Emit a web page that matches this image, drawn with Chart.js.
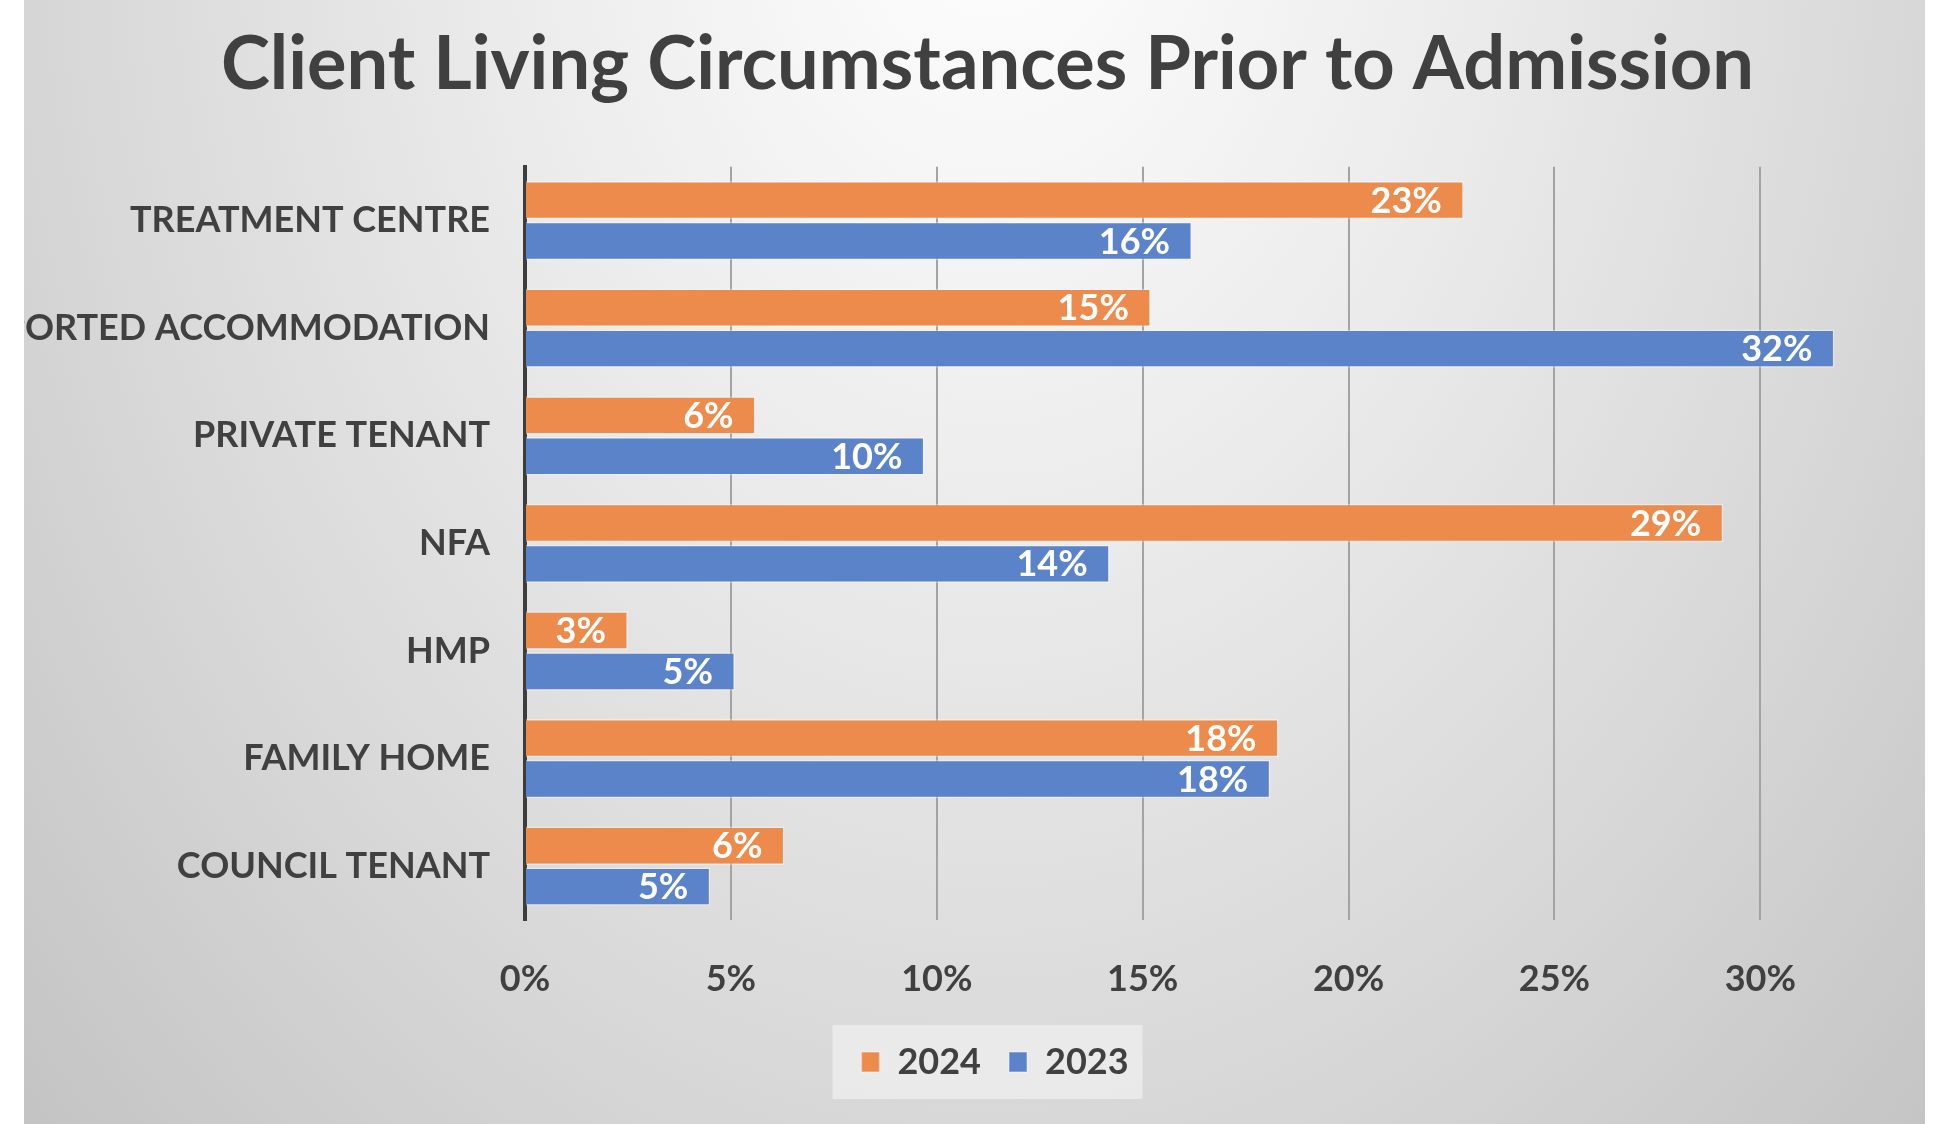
<!DOCTYPE html>
<html>
<head>
<meta charset="utf-8">
<title>Client Living Circumstances Prior to Admission</title>
<script src="https://cdn.jsdelivr.net/npm/chart.js@4.4.1/dist/chart.umd.min.js"></script>
<style>
    body { margin: 0; background: #ffffff; }
    #wrap {
        position: absolute;
        left: 24px;
        top: 0;
        width: 1901px;
        height: 1124px;
        background: radial-gradient(ellipse 1000px 1350px at 966px -130px,
            #ffffff 0%, #f7f7f7 20%, #ebebeb 50%, #d9d9d9 90%, #c3c3c3 135%);
    }
</style>
</head>
<body>
<div id="wrap"><canvas id="livingChart"></canvas></div>
<script>
const categories = ['TREATMENT CENTRE', 'SUPPORTED ACCOMMODATION', 'PRIVATE TENANT', 'NFA', 'HMP', 'FAMILY HOME', 'COUNCIL TENANT'];
const values2024 = [22.8, 15.2, 5.6, 29.1, 2.5, 18.3, 6.3];
const values2023 = [16.2, 31.8, 9.7, 14.2, 5.1, 18.1, 4.5];
const seriesNames = ['2024', '2023'];
const xTicks = [0, 5, 10, 15, 20, 25, 30];

const textColor = '#404040';
const fontFamily = 'Lato, "Open Sans", sans-serif';

// white value labels at the inner end of each bar
const barLabels = {
    id: 'barLabels',
    afterDatasetsDraw(chart) {
        const ctx = chart.ctx;
        ctx.save();
        ctx.font = 'bold 36px ' + fontFamily;
        ctx.fillStyle = '#ffffff';
        ctx.textAlign = 'right';
        ctx.textBaseline = 'middle';
        chart.data.datasets.forEach((ds, i) => {
            chart.getDatasetMeta(i).data.forEach((bar, j) => {
                ctx.fillText(Math.round(ds.data[j]) + '%', bar.x - 22, bar.y + 1);
            });
        });
        ctx.restore();
    }
};

// nudge title and legend to where they sit in the original, and paint the legend box
const legendBox = {
    id: 'legendBox',
    afterLayout(chart) {
        chart.titleBlock.left += 13;
        chart.titleBlock.right += 13;
        const lg = chart.legend;
        const mid = (lg.left + lg.right) / 2;
        const shift = 971 - mid;
        lg.left += shift;
        lg.right += shift;
    },
    beforeDraw(chart) {
        const lg = chart.legend;
        const pad = lg.options.labels.padding;
        const mid = (lg.left + lg.right) / 2;
        const half = (lg.lineWidths[0] - pad) / 2;
        const cy = lg.top + pad + 18;
        const ctx = chart.ctx;
        ctx.save();
        ctx.fillStyle = 'rgba(236, 236, 236, 0.85)';
        ctx.fillRect(mid - half - 29, cy - 37, half * 2 + 43, 74);
        ctx.restore();
    }
};

const ctx = document.getElementById('livingChart').getContext('2d');
const livingChart = new Chart(ctx, {
    type: 'bar',
    data: {
        labels: categories,
        datasets: [{
            label: seriesNames[0],
            data: values2024,
            backgroundColor: '#EC8B4B',
            borderColor: 'rgba(255, 255, 255, 0.35)',
            borderWidth: 1.5,
        }, {
            label: seriesNames[1],
            data: values2023,
            backgroundColor: '#5B83C9',
            borderColor: 'rgba(255, 255, 255, 0.35)',
            borderWidth: 1.5,
        }]
    },
    options: {
        indexAxis: 'y',
        responsive: true,
        maintainAspectRatio: false,
        animation: false,
        layout: {
            padding: { bottom: 34 }
        },
        datasets: {
            bar: {
                categoryPercentage: 0.76,
                barPercentage: 0.94
            }
        },
        scales: {
            x: {
                min: 0,
                max: 34,
                afterBuildTicks: axis => {
                    axis.ticks = xTicks.map(v => ({ value: v }));
                },
                afterFit: scale => { scale.height = 96; },
                ticks: {
                    padding: 38,
                    color: textColor,
                    font: { family: fontFamily, size: 36, weight: 'bold' },
                    callback: value => value + '%'
                },
                grid: {
                    color: '#a3a3a3',
                    lineWidth: 2,
                    drawTicks: false
                },
                border: { display: false }
            },
            y: {
                afterFit: scale => { scale.width = 501; },
                ticks: {
                    padding: 35,
                    color: textColor,
                    font: { family: fontFamily, size: 36, weight: 'bold' }
                },
                grid: { display: false, drawTicks: false },
                border: { display: true, color: '#3d3d3d', width: 4 }
            }
        },
        plugins: {
            title: {
                display: true,
                text: 'Client Living Circumstances Prior to Admission',
                color: textColor,
                font: { family: fontFamily, size: 74, weight: 'bold' },
                padding: { top: 21, bottom: 57 }
            },
            legend: {
                position: 'bottom',
                labels: {
                    color: textColor,
                    boxWidth: 18,
                    boxHeight: 20,
                    padding: 28,
                    font: { family: fontFamily, size: 36, weight: 'bold' }
                }
            },
            tooltip: { enabled: false }
        }
    },
    plugins: [barLabels, legendBox]
});
</script>
</body>
</html>
